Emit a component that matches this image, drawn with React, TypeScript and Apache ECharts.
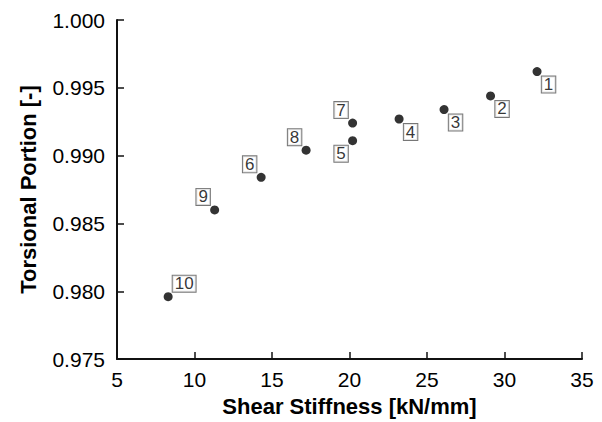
import React, { useEffect, useRef } from "react";
import * as echarts from "echarts";

const pointIds = ["1", "2", "3", "4", "5", "6", "7", "8", "9", "10"];
const shearStiffness = [32.1, 29.1, 26.1, 23.2, 20.2, 14.3, 20.2, 17.2, 11.3, 8.3];
const torsionalPortion = [0.9962, 0.9944, 0.9934, 0.9927, 0.9911, 0.9884, 0.9924, 0.9904, 0.9860, 0.9796];
// label corner relative to point: "br" bottom-right, "bl" bottom-left, "tl" top-left, "tr" top-right
const labelCorner = ["br", "br", "br", "br", "bl", "tl", "tl", "tl", "tl", "tr"];

const xTicks = { min: 5, max: 35, interval: 5 };
const yTicks = { min: 0.975, max: 1.0, interval: 0.005 };

export default function App() {
  const ref = useRef<HTMLDivElement>(null);
  useEffect(() => {
    if (!ref.current) return;
    const chart = echarts.init(ref.current, undefined, { renderer: "svg" });
    const font = "'Liberation Sans', Arial, Helvetica, sans-serif";
    const data = pointIds.map((id, i) => {
      const c = labelCorner[i];
      const wide = id.length > 1;
      const dx = (c[1] === "r" ? 1 : -1) * (wide ? 16 : 11.5);
      const dy = c[0] === "b" ? 13 : -13;
      return {
        value: [shearStiffness[i], torsionalPortion[i]],
        label: { offset: [dx, dy] },
      };
    });
    chart.setOption({
      animation: false,
      grid: { left: 117, right: 20, top: 20, bottom: 61, containLabel: false },
      xAxis: {
        type: "value",
        min: xTicks.min,
        max: xTicks.max,
        interval: xTicks.interval,
        name: "Shear Stiffness [kN/mm]",
        nameLocation: "middle",
        nameGap: 35,
        nameTextStyle: { fontFamily: font, fontSize: 22, fontWeight: "bold", color: "#000" },
        axisLine: { show: true, onZero: false, lineStyle: { color: "#111", width: 2 } },
        axisTick: { show: true, inside: true, length: 7, lineStyle: { color: "#111", width: 1.5 } },
        axisLabel: { fontFamily: font, fontSize: 21, color: "#000", margin: 10 },
        splitLine: { show: false },
      },
      yAxis: {
        type: "value",
        min: yTicks.min,
        max: yTicks.max,
        interval: yTicks.interval,
        name: "Torsional Portion [-]",
        nameLocation: "middle",
        nameGap: 78,
        nameTextStyle: { fontFamily: font, fontSize: 22, fontWeight: "bold", color: "#000" },
        axisLine: { show: true, onZero: false, lineStyle: { color: "#111", width: 2 } },
        axisTick: { show: true, inside: true, length: 7, lineStyle: { color: "#111", width: 1.5 } },
        axisLabel: {
          fontFamily: font,
          fontSize: 21,
          color: "#000",
          margin: 12,
          formatter: (v: number) => v.toFixed(3),
        },
        splitLine: { show: false },
      },
      series: [
        {
          type: "scatter",
          symbol: "circle",
          symbolSize: 9,
          itemStyle: { color: "#000" },
          data,
          label: {
            show: true,
            position: "inside",
            formatter: (p: any) => pointIds[p.dataIndex],
            fontFamily: font,
            fontSize: 17,
            lineHeight: 14,
            color: "#000",
            backgroundColor: "#fff",
            borderColor: "#555",
            borderWidth: 1,
            padding: [2, 2, 0, 2],
            align: "center",
            verticalAlign: "middle",
          },
        },
      ],
    });
    return () => chart.dispose();
  }, []);
  return <div ref={ref} style={{ width: 602, height: 422, marginLeft: -8, marginTop: -8 }} />;
}
